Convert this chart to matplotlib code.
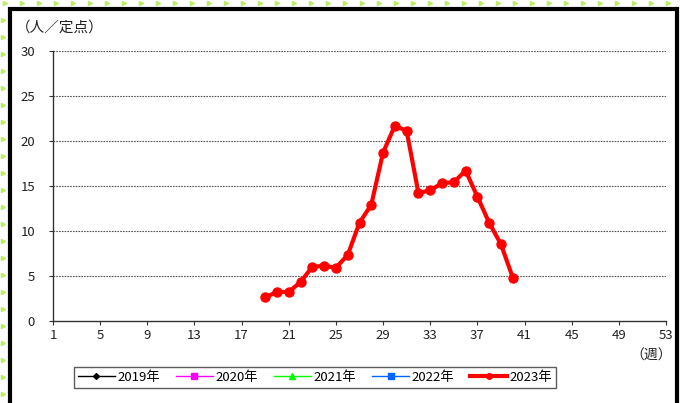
import matplotlib
matplotlib.use("Agg")
import matplotlib.pyplot as plt
from matplotlib.lines import Line2D
from matplotlib.patches import Rectangle

plt.rcParams['font.family'] = ['Noto Sans CJK JP', 'DejaVu Sans']

weeks_2023 = list(range(19, 41))
values_2023 = [2.6, 3.2, 3.2, 4.3, 6.0, 6.1, 5.9, 7.3, 10.9, 12.9, 18.7, 21.7,
               21.1, 14.2, 14.5, 15.3, 15.4, 16.7, 13.8, 10.9, 8.5, 4.8]

series = [
    ("2019年", [], [], "black", "D", 3, 1.0),
    ("2020年", [], [], "#ff00ff", "s", 4, 1.0),
    ("2021年", [], [], "#00ff00", "^", 4, 1.0),
    ("2022年", [], [], "#0066ff", "s", 4, 1.0),
    ("2023年", weeks_2023, values_2023, "#ff0000", "o", 6.5, 3.0),
]

xticks = list(range(1, 54, 4))
yticks = [0, 5, 10, 15, 20, 25, 30]

W, H = 681, 403
fig = plt.figure(figsize=(W / 100, H / 100), dpi=100)
fig.patch.set_facecolor("white")

ax = fig.add_axes([53 / W, 1 - 320.7 / H, (666 - 53) / W, (320.7 - 51) / H])
ax.set_xlim(1, 53)
ax.set_ylim(0, 30)

for y in yticks[1:]:
    ax.axhline(y, color="#555555", linestyle=(0, (1.5, 1)), linewidth=0.8, zorder=1)

handles = []
for label, xs, ys, color, marker, ms, lw in series:
    ax.plot(xs, ys, color=color, marker=marker, markersize=ms, linewidth=lw,
            zorder=3, clip_on=False)
    handles.append(Line2D([], [], color=color, marker=marker,
                          markersize=min(ms, 4), linewidth=lw, label=label))

ax.set_xticks(xticks)
ax.set_yticks(yticks)
for s in ["top", "right"]:
    ax.spines[s].set_visible(False)
for s in ["left", "bottom"]:
    ax.spines[s].set_color("#333333")
    ax.spines[s].set_linewidth(1.0)
ax.tick_params(axis="both", direction="out", length=3, width=0.8, color="#333333",
               labelsize=9.5, labelcolor="#222222", pad=3)
ax.tick_params(axis="y", pad=10)

fig.text(16 / W, 1 - 28 / H, "（人／定点）", fontsize=10.5, ha="left", va="center", color="#222222")
fig.text(651 / W, 1 - 356 / H, "（週）", fontsize=10, ha="center", va="center", color="#222222")

leg = fig.legend(handles=handles, loc="center", ncol=5,
                 bbox_to_anchor=(67 / W, 1 - 390 / H, (563 - 67) / W, 25 / H),
                 mode="expand", frameon=True, fancybox=False, fontsize=9.5,
                 handlelength=2.8, handletextpad=0.2, columnspacing=1.5,
                 borderpad=0.3)
leg.get_frame().set_edgecolor("#333333")
leg.get_frame().set_linewidth(1.0)

# outer black frame
fig.add_artist(Rectangle((9.5 / W, -0.05), (677 - 9.5) / W, 1 - 8.5 / H + 0.05,
                         transform=fig.transFigure, fill=False,
                         edgecolor="black", linewidth=3))
# decorative green marks outside the frame
gx = [x / W for x in range(5, W, 17)]
fig.add_artist(Line2D(gx, [1 - 3 / H] * len(gx), transform=fig.transFigure,
                      linestyle="none", marker=">", markersize=3, color="#bbee66"))
gy = [1 - y / H for y in range(20, H, 17)]
fig.add_artist(Line2D([2.5 / W] * len(gy), gy, transform=fig.transFigure,
                      linestyle="none", marker=">", markersize=3, color="#bbee66"))

fig.savefig("out.png", dpi=100)
